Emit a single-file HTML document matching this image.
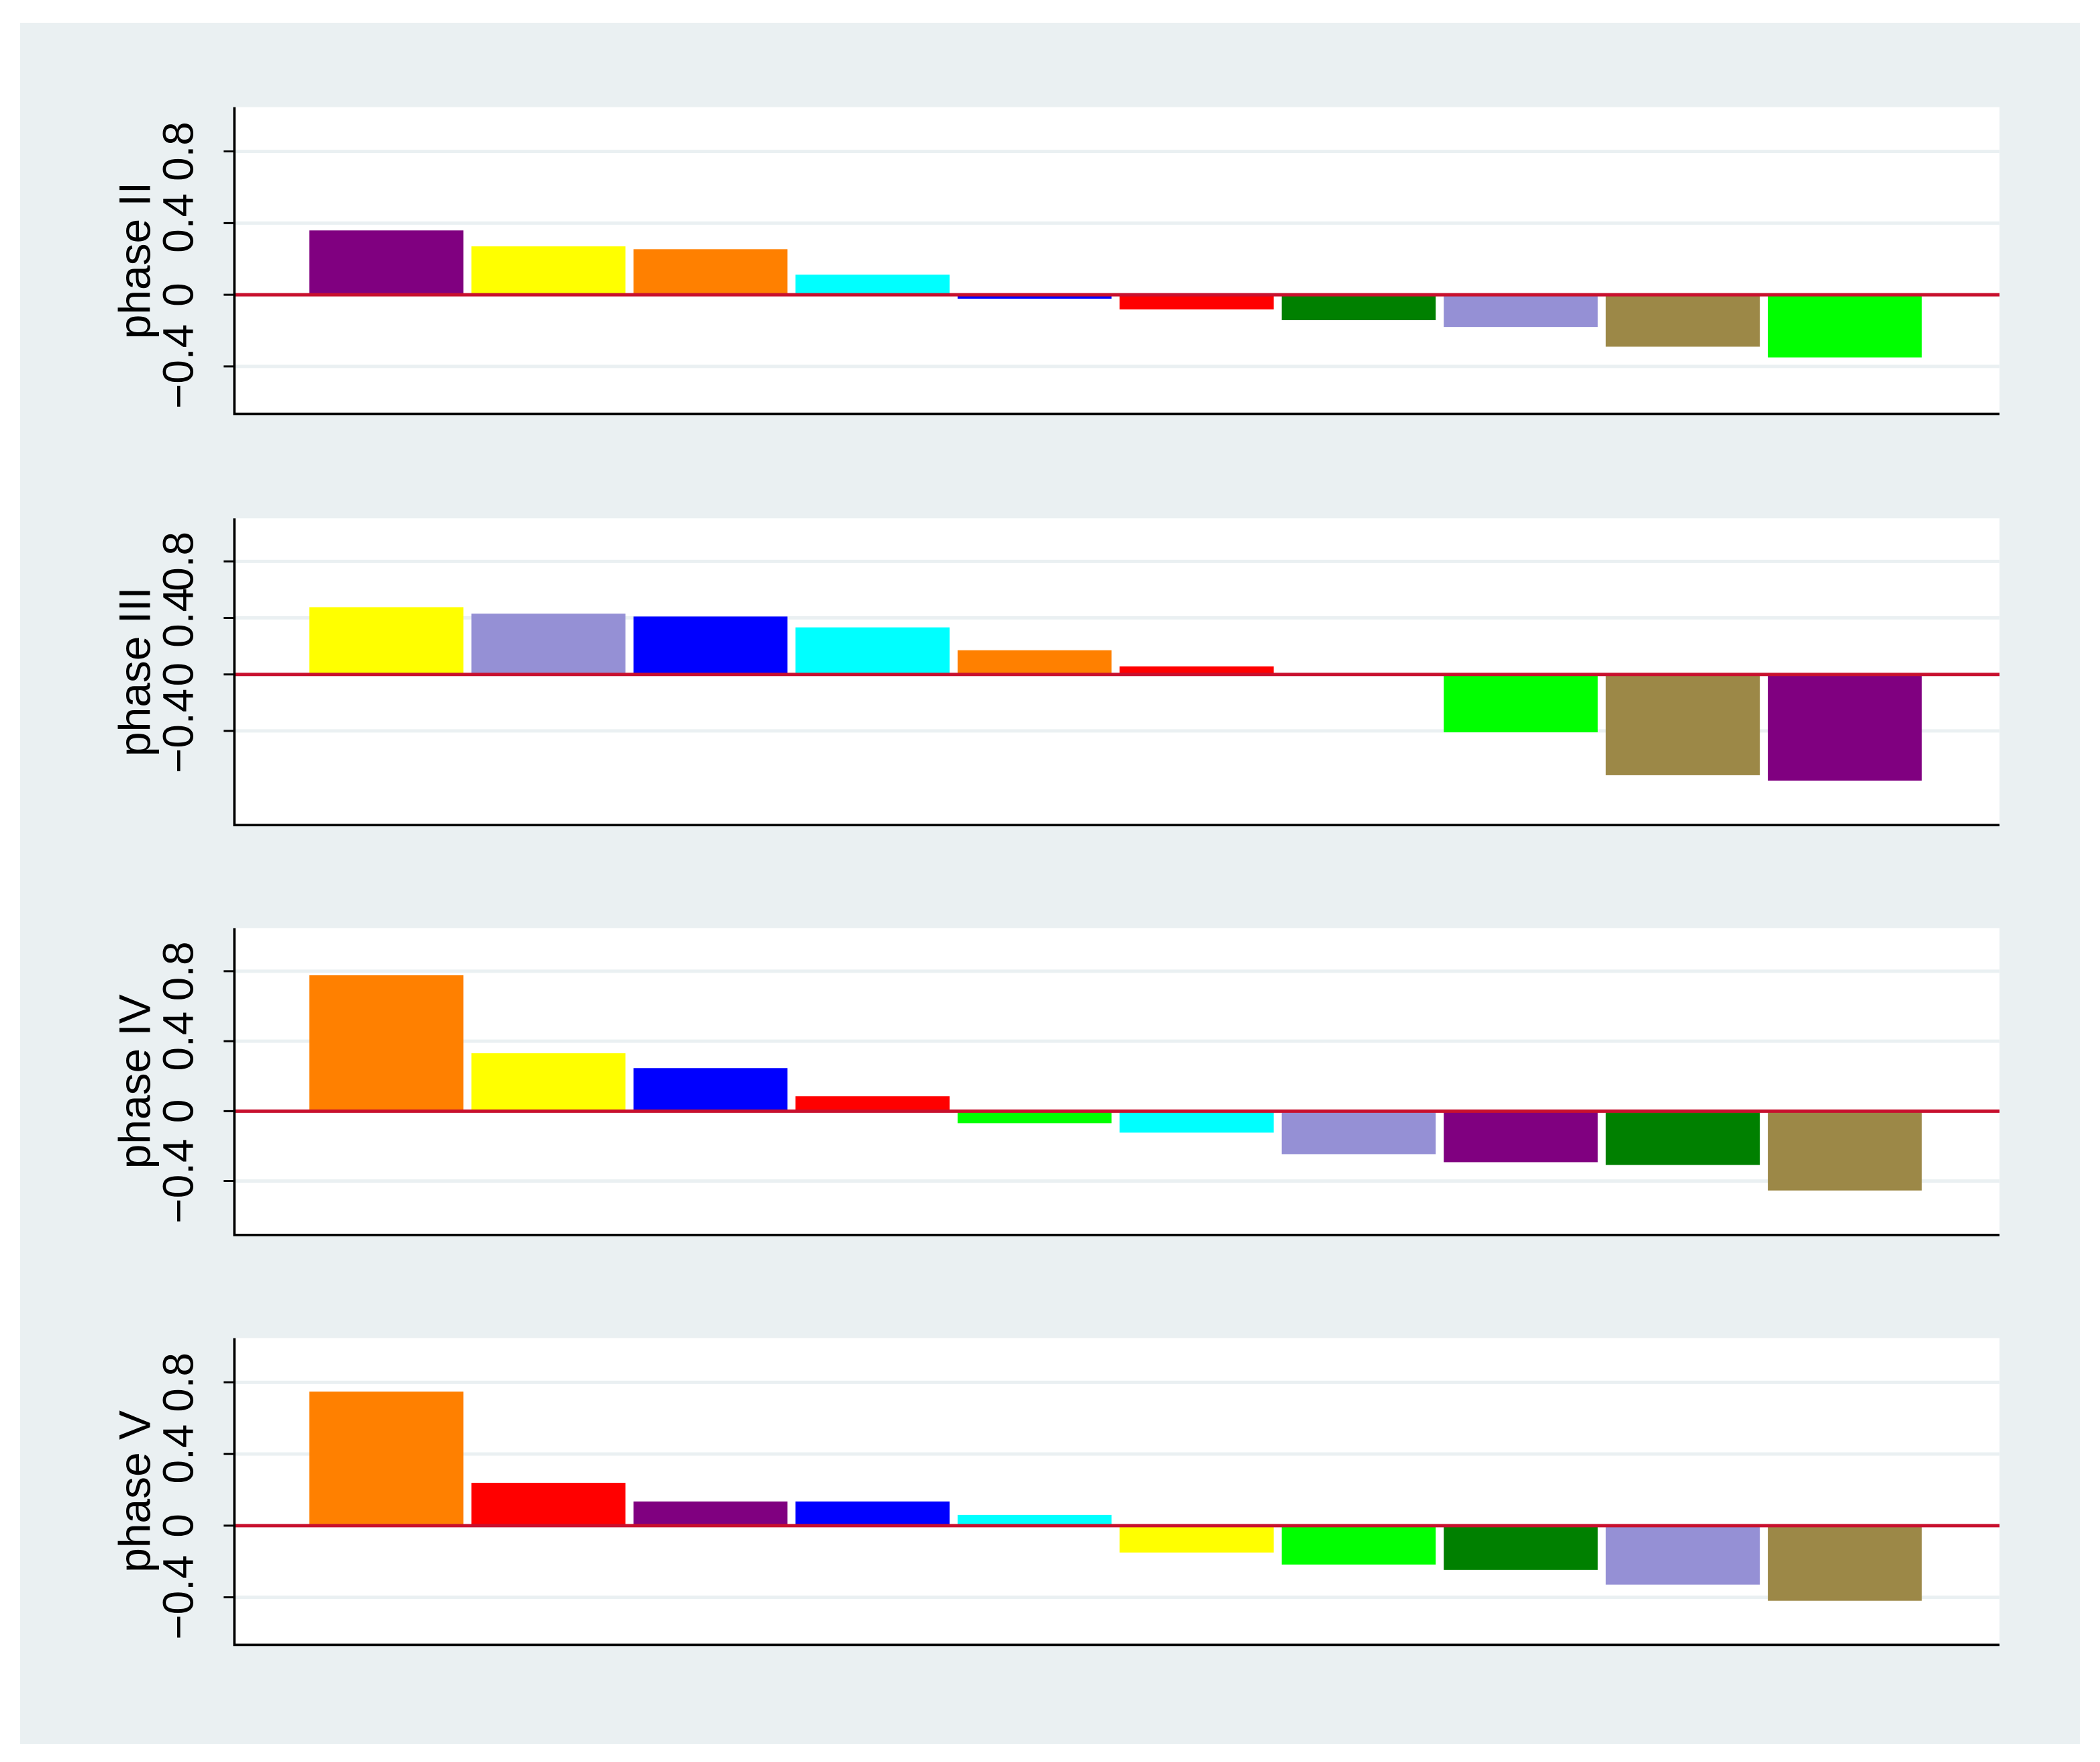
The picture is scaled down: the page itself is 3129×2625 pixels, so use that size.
<!DOCTYPE html>
<html><head><meta charset="utf-8"><style>
html,body{margin:0;padding:0;background:#fff}
svg{display:block}
text{font-family:"Liberation Sans",sans-serif;fill:#000}
</style></head><body>
<svg id="chart" width="3129" height="2625" viewBox="0 0 1568 1315.5" preserveAspectRatio="none" xmlns="http://www.w3.org/2000/svg">
<rect x="15" y="17" width="1538" height="1285" fill="#eaf0f2"/>
<g id="panels"></g>
</svg>
<script>
const panelNames = ["phase II","phase III","phase IV","phase V"];
const colorsP1 = ["#800080","#ffff00","#ff8000","#00ffff","#0000ff","#ff0000","#008000","#9590d5","#9c8847","#00ff00"];
const valuesP1 = [0.359,0.27,0.254,0.112,-0.022,-0.082,-0.142,-0.18,-0.29,-0.35];
const colorsP2 = ["#ffff00","#9590d5","#0000ff","#00ffff","#ff8000","#ff0000","#008000","#00ff00","#9c8847","#800080"];
const valuesP2 = [0.476,0.43,0.41,0.333,0.171,0.057,0.004,-0.41,-0.714,-0.752];
const colorsP3 = ["#ff8000","#ffff00","#0000ff","#ff0000","#00ff00","#00ffff","#9590d5","#800080","#008000","#9c8847"];
const valuesP3 = [0.777,0.331,0.246,0.085,-0.069,-0.123,-0.246,-0.292,-0.308,-0.454];
const colorsP4 = ["#ff8000","#ff0000","#800080","#0000ff","#00ffff","#ffff00","#00ff00","#008000","#9590d5","#9c8847"];
const valuesP4 = [0.748,0.239,0.135,0.135,0.06,-0.15,-0.217,-0.247,-0.329,-0.419];
const tickValues = [-0.4,0,0.4,0.8];
const tickLabels = ["\u22120.4","0","0.4","0.8"];
const yMins = [-0.665,-1.067,-0.708,-0.665];
const yMaxs = [1.047,1.105,1.046,1.047];

const allColors=[colorsP1,colorsP2,colorsP3,colorsP4];
const allValues=[valuesP1,valuesP2,valuesP3,valuesP4];
const NS="http://www.w3.org/2000/svg";
const root=document.getElementById('panels');
const tops=[80,387,693,999], H=229, X0=175, X1=1493;
function mk(tag,attrs,parent){const e=document.createElementNS(NS,tag);for(const k in attrs)e.setAttribute(k,attrs[k]);parent.appendChild(e);return e;}
for(let p=0;p<4;p++){
  const top=tops[p], bot=top+H;
  const y=v=>bot-(v-yMins[p])/(yMaxs[p]-yMins[p])*H;
  const xb=i=>231+i*121;
  const g=mk('g',{},root);
  
  
  const bg=mk('rect',{x:X0,y:top,width:X1-X0,height:H,fill:"#fff"},g);
  
  
  tickValues.forEach((t,j)=>{
    const gl=mk('line',{x1:X0,x2:X1,y1:y(t),y2:y(t),stroke:"#eaf0f2","stroke-width":2.5},g);
    
    
    const tk=mk('line',{x1:X0-8,x2:X0,y1:y(t),y2:y(t),stroke:"#000","stroke-width":1.5},g);
    
    
    const tl=mk('text',{x:0,y:0,transform:`translate(${X0-31},${y(t)}) rotate(-90)`,"text-anchor":"middle","font-size":32},g);
    tl.textContent=tickLabels[j];
    
    
  });
  allValues[p].forEach((v,i)=>{
    const y0=y(0), yv=y(v);
    const r=mk('rect',{x:xb(i),y:Math.min(y0,yv),width:115,height:Math.abs(yv-y0),fill:allColors[p][i]},g);
    
    
  });
  const zl=mk('line',{x1:X0,x2:X1,y1:y(0),y2:y(0),stroke:"#c8102e","stroke-width":2.5},g);
  
  
  const ax=mk('path',{d:`M${X0},${top} V${bot} H${X1}`,fill:"none",stroke:"#000","stroke-width":1.8},g);
  
  
  const tt=mk('text',{x:0,y:0,transform:`translate(112,${top+H/2}) rotate(-90)`,"text-anchor":"middle","font-size":33},g);
  tt.textContent=panelNames[p];
  
  
}
</script>
</body></html>
